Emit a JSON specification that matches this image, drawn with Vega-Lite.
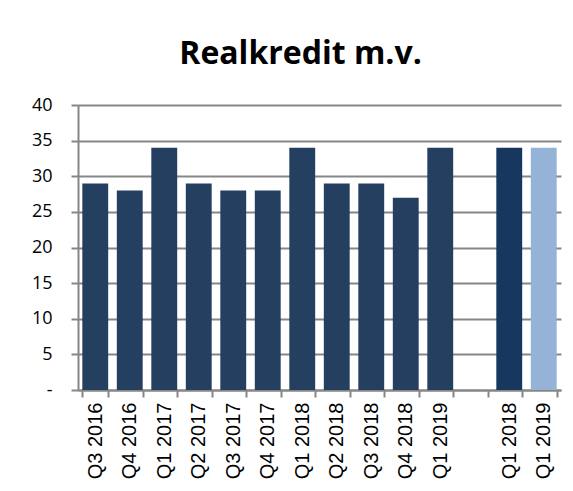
{
  "$schema": "https://vega.github.io/schema/vega-lite/v6.json",
  "autosize": {"type": "none"},
  "width": 483,
  "height": 285,
  "padding": {"left": 78, "top": 105, "right": 12, "bottom": 101},
  "background": "white",
  "title": {
    "text": "Realkredit m.v.",
    "font": "Open Sans",
    "fontWeight": "bold",
    "fontSize": 32,
    "color": "#000000",
    "anchor": "middle",
    "dx": -19,
    "offset": 25
  },
  "data": {
    "values": [
      {"key": "01|Q3 2016", "value": 29, "grp": "a"},
      {"key": "02|Q4 2016", "value": 28, "grp": "a"},
      {"key": "03|Q1 2017", "value": 34, "grp": "a"},
      {"key": "04|Q2 2017", "value": 29, "grp": "a"},
      {"key": "05|Q3 2017", "value": 28, "grp": "a"},
      {"key": "06|Q4 2017", "value": 28, "grp": "a"},
      {"key": "07|Q1 2018", "value": 34, "grp": "a"},
      {"key": "08|Q2 2018", "value": 29, "grp": "a"},
      {"key": "09|Q3 2018", "value": 29, "grp": "a"},
      {"key": "10|Q4 2018", "value": 27, "grp": "a"},
      {"key": "11|Q1 2019", "value": 34, "grp": "a"},
      {"key": "13|Q1 2018", "value": 34, "grp": "b"},
      {"key": "14|Q1 2019", "value": 34, "grp": "c"}
    ]
  },
  "mark": {"type": "bar"},
  "encoding": {
    "x": {
      "field": "key",
      "type": "nominal",
      "title": null,
      "scale": {
        "domain": ["01|Q3 2016", "02|Q4 2016", "03|Q1 2017", "04|Q2 2017", "05|Q3 2017", "06|Q4 2017", "07|Q1 2018", "08|Q2 2018", "09|Q3 2018", "10|Q4 2018", "11|Q1 2019", "12|", "13|Q1 2018", "14|Q1 2019"],
        "paddingInner": 0.25,
        "paddingOuter": 0.125
      },
      "axis": {
        "labelExpr": "split(datum.value, '|')[1]",
        "labelAngle": -90,
        "labelFont": "Liberation Sans",
        "labelFontSize": 20,
        "labelColor": "#000000",
        "labelPadding": 5,
        "tickBand": "extent",
        "tickSize": 7,
        "tickColor": "#868686",
        "tickWidth": 2,
        "domainColor": "#868686",
        "domainWidth": 2,
        "grid": false
      }
    },
    "y": {
      "field": "value",
      "type": "quantitative",
      "title": null,
      "scale": {"domain": [0, 40], "nice": false},
      "axis": {
        "values": [0, 5, 10, 15, 20, 25, 30, 35, 40],
        "labelExpr": "datum.value == 0 ? '-' : datum.label",
        "labelFont": "Open Sans",
        "labelFontSize": 18,
        "labelColor": "#000000",
        "labelPadding": 19,
        "tickSize": 7,
        "tickColor": "#868686",
        "tickWidth": 2,
        "domainColor": "#868686",
        "domainWidth": 2,
        "grid": true,
        "gridColor": "#868686",
        "gridWidth": 2
      }
    },
    "color": {
      "field": "grp",
      "type": "nominal",
      "legend": null,
      "scale": {"domain": ["a", "b", "c"], "range": ["#243F60", "#17375E", "#95B3D7"]}
    }
  },
  "config": {
    "view": {"stroke": null}
  }
}
